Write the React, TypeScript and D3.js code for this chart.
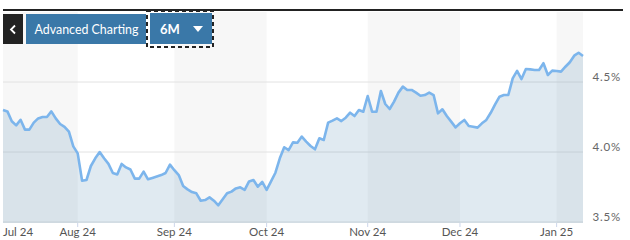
import React from "react";
import * as d3 from "d3";

// Daily values (weekdays), 9 Jul 2024 – 9 Jan 2025
const startDate = "2024-07-09";
const endDate = "2025-01-09";
const values: number[] = [
  4.30, 4.29, 4.22, 4.19, 4.23, 4.16, 4.16, 4.21, 4.24, 4.25,
  4.25, 4.29, 4.24, 4.20, 4.18, 4.145, 4.04, 3.99, 3.795, 3.80,
  3.90, 3.955, 4.00, 3.955, 3.915, 3.85, 3.84, 3.915, 3.89, 3.875,
  3.81, 3.81, 3.86, 3.805, 3.815, 3.825, 3.835, 3.85, 3.91, 3.87,
  3.835, 3.757, 3.733, 3.714, 3.705, 3.652, 3.657, 3.676, 3.652, 3.619,
  3.662, 3.705, 3.717, 3.74, 3.748, 3.73, 3.79, 3.80, 3.752, 3.786,
  3.73, 3.79, 3.852, 3.955, 4.034, 4.014, 4.069, 4.066, 4.11, 4.074,
  4.043, 4.019, 4.098, 4.086, 4.21, 4.224, 4.24, 4.221, 4.245, 4.281,
  4.257, 4.30, 4.288, 4.40, 4.288, 4.288, 4.436, 4.343, 4.307, 4.36,
  4.424, 4.467, 4.443, 4.443, 4.424, 4.402, 4.407, 4.424, 4.407, 4.276,
  4.305, 4.257, 4.217, 4.176, 4.205, 4.229, 4.186, 4.181, 4.174, 4.205,
  4.229, 4.28, 4.34, 4.395, 4.407, 4.407, 4.526, 4.579, 4.521, 4.593,
  4.59, 4.586, 4.586, 4.634, 4.55, 4.581, 4.579, 4.574, 4.609, 4.641,
  4.688, 4.709, 4.686,
];
const yTicks = [3.5, 4.0, 4.5];
const yDomain = [3.5, 5.0];
const monthLabel = d3.timeFormat("%b %y");

const parse = d3.timeParse("%Y-%m-%d");
const dates: Date[] = d3.timeDay
  .range(parse(startDate)!, d3.timeDay.offset(parse(endDate)!, 1))
  .filter((d) => d.getDay() !== 0 && d.getDay() !== 6);

const W = 630;
const H = 240;
const left = 3;
const right = 583;
const top = 12;
const bottom = 223;

export default function App() {
  const n = values.length;
  const x = d3.scaleLinear().domain([0, n - 1]).range([left, right]);
  const y = d3.scaleLinear().domain(yDomain).range([222, top]);

  // month boundaries = first weekday of each month
  const firsts: number[] = [];
  dates.forEach((d, i) => {
    if (i > 0 && d.getMonth() !== dates[i - 1].getMonth()) firsts.push(i);
  });
  const edges = [left, ...firsts.map((i) => x(i)), right];
  const bands = edges.slice(0, -1).map((e, k) => ({ x0: e, x1: edges[k + 1], gray: k % 2 === 0 }));

  const line = d3.line<number>().x((_, i) => x(i)).y((v) => y(v));
  const area = d3.area<number>().x((_, i) => x(i)).y0(bottom).y1((v) => y(v));

  const font = "Lato, 'Open Sans', sans-serif";

  return (
    <svg width={W} height={H} style={{ position: "absolute", left: 0, top: 0, display: "block" }}>
      <rect x={0} y={0} width={W} height={H} fill="#ffffff" />
      {bands.map((b, k) =>
        b.gray ? <rect key={k} x={b.x0} y={top} width={b.x1 - b.x0} height={bottom - top} fill="#f7f7f7" /> : null
      )}
      {yTicks.map((t) => (
        <line key={t} x1={left} x2={right} y1={y(t)} y2={y(t)} stroke="#e2e2e2" strokeWidth={1} />
      ))}
      <path d={area(values) || ""} fill="rgb(48,115,162)" fillOpacity={0.15} />
      <path d={line(values) || ""} fill="none" stroke="#7cb5ec" strokeWidth={2.6} strokeLinejoin="round" />
      {firsts.map((i) => (
        <line key={i} x1={x(i)} x2={x(i)} y1={bottom} y2={bottom + 4} stroke="#ccd6eb" strokeWidth={1} />
      ))}
      <text x={left} y={236} fontFamily={font} fontSize={11.5} fill="#555" textAnchor="start">
        {monthLabel(dates[0])}
      </text>
      {firsts.map((i) => (
        <text key={i} x={x(i)} y={236} fontFamily={font} fontSize={11.5} fill="#555" textAnchor="middle">
          {monthLabel(dates[i])}
        </text>
      ))}
      {yTicks.map((t) => (
        <text key={t} x={621} y={y(t) - 1} fontFamily={font} fontSize={11.5} fill="#666" textAnchor="end" letterSpacing={0.8}>
          {t.toFixed(1) + "%"}
        </text>
      ))}
      <line x1={3} x2={623} y1={10} y2={10} stroke="#222" strokeWidth={2} />
      {/* toolbar */}
      <rect x={3} y={14} width={20} height={30} fill="#222" />
      <path d="M15,25.5 L11,29.5 L15,33.5" fill="none" stroke="#fff" strokeWidth={1.8} />
      <rect x={26} y={14} width={120} height={30} fill="#3a78a8" />
      <text x={86.5} y={33.5} fontFamily={font} fontSize={12.4} fill="#fff" textAnchor="middle">
        Advanced Charting
      </text>
      <rect x={150} y={13} width={62} height={31} fill="#3a78a8" />
      <text x={160} y={33.5} fontFamily={font} fontSize={13} fontWeight={700} fill="#fff">
        6M
      </text>
      <path d="M193,26 L203,26 L198,32 Z" fill="#fff" />
      <rect x={147} y={11} width={66} height={36} fill="none" stroke="#222" strokeWidth={2} strokeDasharray="4,3" />
    </svg>
  );
}
